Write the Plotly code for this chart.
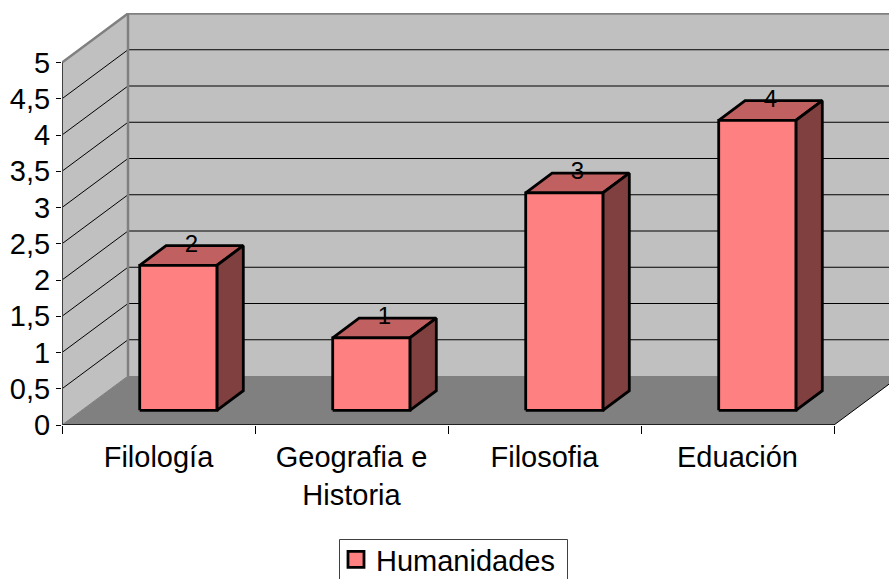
import plotly.graph_objects as go

# ---- data ----
categories = ["Filología", "Geografia e<br>Historia", "Filosofia", "Eduación"]
series_name = "Humanidades"
values = [2, 1, 3, 4]
y_ticks = [0, 0.5, 1, 1.5, 2, 2.5, 3, 3.5, 4, 4.5, 5]
y_labels = ["0", "0,5", "1", "1,5", "2", "2,5", "3", "3,5", "4", "4,5", "5"]

# ---- oblique projection of the 3-D look ----
W, H = 889, 579
L, R, T, B = 62, 0, 13, 154
PX_X = 193.0   # px per category
PX_Y = 72.5    # px per value unit
DX = 66 / PX_X    # depth shift in category units
DY = 49 / PX_Y    # depth shift in value units
BAR_W = 0.4
D0, D1 = 0.3, 0.7
FONT = "Liberation Sans"
FS = 29
BAR_LINE = 2.8
n = len(categories)


def P(x, y, d=0.0):
    return x + d * DX, y + d * DY


def poly(points, fill=None, line=None, width=1):
    xs, ys = zip(*points)
    return go.Scatter(
        x=list(xs), y=list(ys), mode="lines", showlegend=False, hoverinfo="skip",
        fill="toself" if fill else None, fillcolor=fill,
        line=dict(color=line or "rgba(0,0,0,0)", width=width, shape="linear"),
        cliponaxis=False,
    )


fig = go.Figure()
top = y_ticks[-1]

# walls and floor
fig.add_trace(poly([P(0, 0), P(0, top), P(0, top, 1), P(0, 0, 1), P(0, 0)], fill="#C0C0C0"))
fig.add_trace(poly([P(0, 0, 1), P(0, top, 1), P(n, top, 1), P(n, 0, 1), P(0, 0, 1)], fill="#C0C0C0"))
fig.add_trace(poly([P(0, 0), P(n, 0), P(n, 0, 1), P(0, 0, 1), P(0, 0)], fill="#808080"))

# gridlines
for v in y_ticks[1:-1]:
    fig.add_trace(poly([P(0, v), P(0, v, 1), P(n, v, 1)], line="#000000", width=1))

# wall frame
fig.add_trace(poly([P(0, top), P(0, top, 1), P(n, top, 1)], line="#808080", width=2.5))
fig.add_trace(poly([P(0, 0, 1), P(0, top, 1)], line="#808080", width=2.5))
fig.add_trace(poly([P(0, 0), P(0, 0, 1)], line="#808080", width=1))

# axes lines
fig.add_trace(poly([P(n, 0), P(n, 0, 1)], line="#000000", width=1))
fig.add_trace(poly([P(0, 0), P(n, 0)], line="#000000", width=1.5))
fig.add_trace(poly([P(0, 0), P(0, top)], line="#404040", width=2))

# bars
for i, v in enumerate(values):
    x0 = i + 0.5 - BAR_W / 2
    x1 = i + 0.5 + BAR_W / 2
    fig.add_trace(poly([P(x0, v, D0), P(x1, v, D0), P(x1, v, D1), P(x0, v, D1), P(x0, v, D0)],
                       fill="#C06060", line="#000000", width=BAR_LINE))
    fig.add_trace(poly([P(x1, 0, D0), P(x1, 0, D1), P(x1, v, D1), P(x1, v, D0), P(x1, 0, D0)],
                       fill="#804040", line="#000000", width=BAR_LINE))
    fig.add_trace(poly([P(x0, 0, D0), P(x1, 0, D0), P(x1, v, D0), P(x0, v, D0), P(x0, 0, D0)],
                       fill="#FF8080", line="#000000", width=BAR_LINE))

# data labels: centred on the top face horizontally, on its back edge vertically
lx = [P(i + 0.5, v, (D0 + D1) / 2)[0] for i, v in enumerate(values)]
ly = [P(i + 0.5, v, D1)[1] for i, v in enumerate(values)]
fig.add_trace(go.Scatter(
    x=lx, y=ly, mode="text", text=[str(v) for v in values],
    textposition="middle center", textfont=dict(family=FONT, size=24, color="#000000"),
    showlegend=False, hoverinfo="skip", cliponaxis=False,
))

# legend entry
fig.add_trace(go.Scatter(
    x=[None], y=[None], mode="markers", name=series_name,
    marker=dict(symbol="square", size=16, color="#FF8080", line=dict(color="#000000", width=BAR_LINE)),
))

plot_w = W - L - R
plot_h = H - T - B
fig.update_layout(
    width=W, height=H, autosize=False,
    margin=dict(l=L, r=R, t=T, b=B, pad=0, autoexpand=False),
    paper_bgcolor="#FFFFFF", plot_bgcolor="#FFFFFF",
    font=dict(family=FONT, size=FS, color="#000000"),
    showlegend=True,
    legend=dict(
        x=(336 - L) / plot_w, xanchor="left",
        y=(H - B - 534) / plot_h, yanchor="top",
        borderwidth=0, bgcolor="rgba(0,0,0,0)",
        font=dict(family=FONT, size=FS, color="#000000"),
        itemclick=False, itemdoubleclick=False,
    ),
    shapes=[dict(
        type="rect", xref="paper", yref="paper", layer="above",
        x0=(339.5 - L) / plot_w, x1=(567.5 - L) / plot_w,
        y0=(H - B - 539.5) / plot_h, y1=(H - B - 590) / plot_h,
        line=dict(color="#404040", width=1), fillcolor="rgba(0,0,0,0)",
    )],
    xaxis=dict(
        range=[0, plot_w / PX_X], tickmode="array",
        tickvals=[i + 0.5 for i in range(n)], ticktext=categories,
        ticks="outside", ticklen=6, tickcolor="rgba(0,0,0,0)", tickangle=0,
        showgrid=False, zeroline=False, showline=False,
        minor=dict(tickmode="array", tickvals=list(range(n + 1)), ticks="outside",
                   ticklen=8, tickwidth=1, tickcolor="#000000", showgrid=False),
        tickfont=dict(family=FONT, size=FS, color="#000000"),
    ),
    yaxis=dict(
        range=[0, plot_h / PX_Y], tickmode="array",
        tickvals=y_ticks, ticktext=y_labels,
        ticks="outside", ticklen=5, tickwidth=1, tickcolor="#000000",
        showgrid=False, zeroline=False, showline=False,
        tickfont=dict(family=FONT, size=FS, color="#000000"),
    ),
)

fig.write_html("out.html", config=dict(displayModeBar=False),
               post_script="document.body.style.margin='0';document.documentElement.style.overflow='hidden';")
